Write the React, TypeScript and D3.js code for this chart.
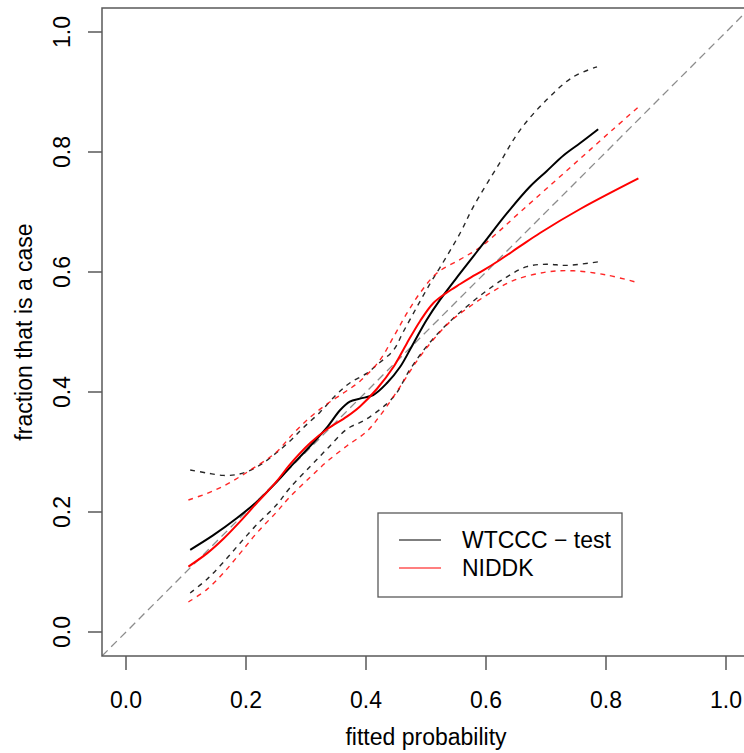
import React from "react";
import * as d3 from "d3";

const xTicks = [0, 0.2, 0.4, 0.6, 0.8, 1.0];
const yTicks = [0, 0.2, 0.4, 0.6, 0.8, 1.0];
const xLabel = "fitted probability";
const yLabel = "fraction that is a case";
const legendLabels = ["WTCCC \u2212 test", "NIDDK"];

// WTCCC - test (black, solid fit)
const wtcccX = [0.107, 0.145, 0.185, 0.218, 0.251, 0.273, 0.307, 0.335, 0.357, 0.373, 0.39, 0.412, 0.435, 0.457, 0.479, 0.501, 0.523, 0.557, 0.596, 0.635, 0.673, 0.701, 0.73, 0.757, 0.787];
const wtcccY = [0.137, 0.161, 0.19, 0.217, 0.25, 0.274, 0.31, 0.341, 0.37, 0.384, 0.389, 0.395, 0.415, 0.442, 0.481, 0.52, 0.553, 0.598, 0.648, 0.698, 0.742, 0.768, 0.795, 0.815, 0.838];
// WTCCC upper band
const wtcccHiX = [0.107, 0.135, 0.162, 0.182, 0.201, 0.223, 0.245, 0.273, 0.295, 0.323, 0.351, 0.373, 0.401, 0.418, 0.446, 0.462, 0.485, 0.507, 0.523, 0.557, 0.579, 0.623, 0.657, 0.701, 0.745, 0.785];
const wtcccHiY = [0.27, 0.265, 0.261, 0.262, 0.267, 0.278, 0.294, 0.318, 0.34, 0.366, 0.396, 0.415, 0.431, 0.445, 0.47, 0.5, 0.542, 0.581, 0.607, 0.665, 0.709, 0.782, 0.837, 0.887, 0.925, 0.942];
// WTCCC lower band
const wtcccLoX = [0.107, 0.135, 0.162, 0.19, 0.218, 0.251, 0.273, 0.307, 0.335, 0.368, 0.401, 0.446, 0.473, 0.501, 0.529, 0.557, 0.596, 0.635, 0.668, 0.701, 0.735, 0.787];
const wtcccLoY = [0.065, 0.088, 0.116, 0.148, 0.179, 0.212, 0.24, 0.276, 0.305, 0.338, 0.355, 0.392, 0.437, 0.476, 0.507, 0.533, 0.565, 0.592, 0.609, 0.613, 0.611, 0.617];

// NIDDK (red, solid fit)
const niddkX = [0.104, 0.135, 0.162, 0.19, 0.218, 0.251, 0.273, 0.307, 0.335, 0.368, 0.39, 0.418, 0.446, 0.468, 0.49, 0.512, 0.535, 0.557, 0.575, 0.596, 0.623, 0.657, 0.69, 0.757, 0.854];
const niddkY = [0.109, 0.131, 0.155, 0.184, 0.215, 0.251, 0.279, 0.315, 0.338, 0.359, 0.376, 0.405, 0.442, 0.481, 0.518, 0.548, 0.566, 0.58, 0.591, 0.603, 0.62, 0.643, 0.665, 0.705, 0.756];
// NIDDK upper band
const niddkHiX = [0.104, 0.135, 0.162, 0.19, 0.212, 0.235, 0.251, 0.278, 0.307, 0.335, 0.362, 0.39, 0.423, 0.446, 0.468, 0.49, 0.518, 0.557, 0.59, 0.623, 0.657, 0.701, 0.757, 0.812, 0.854];
const niddkHiY = [0.22, 0.231, 0.243, 0.259, 0.273, 0.288, 0.3, 0.33, 0.358, 0.38, 0.398, 0.418, 0.453, 0.492, 0.531, 0.565, 0.598, 0.621, 0.641, 0.669, 0.7, 0.739, 0.789, 0.838, 0.875];
// NIDDK lower band
const niddkLoX = [0.104, 0.135, 0.162, 0.19, 0.218, 0.251, 0.273, 0.307, 0.335, 0.368, 0.401, 0.423, 0.457, 0.485, 0.512, 0.54, 0.568, 0.607, 0.646, 0.701, 0.746, 0.801, 0.854];
const niddkLoY = [0.05, 0.071, 0.098, 0.131, 0.165, 0.2, 0.225, 0.258, 0.284, 0.31, 0.334, 0.36, 0.409, 0.452, 0.487, 0.517, 0.539, 0.565, 0.586, 0.6, 0.602, 0.595, 0.582];

const zip = (xs: number[], ys: number[]) => xs.map((v, i) => [v, ys[i]] as [number, number]);

const FONT = "'Liberation Sans', Arial, Helvetica, sans-serif";
const AXIS = "#595959";

export default function App() {
  const W = 744;
  const H = 753;
  const x = d3.scaleLinear().domain([-0.04, 1.04]).range([102, 750]);
  const y = d3.scaleLinear().domain([-0.04, 1.04]).range([656, 8]);
  const line = d3
    .line<[number, number]>()
    .x((d) => x(d[0]))
    .y((d) => y(d[1]))
    .curve(d3.curveCatmullRom.alpha(0.5));

  const series = [
    { d: zip(wtcccHiX, wtcccHiY), c: "#000000", dash: "5,5", w: 1.4, o: 0.85 },
    { d: zip(wtcccLoX, wtcccLoY), c: "#000000", dash: "5,5", w: 1.4, o: 0.85 },
    { d: zip(niddkHiX, niddkHiY), c: "#ff0000", dash: "5,5", w: 1.4, o: 0.85 },
    { d: zip(niddkLoX, niddkLoY), c: "#ff0000", dash: "5,5", w: 1.4, o: 0.85 },
    { d: zip(wtcccX, wtcccY), c: "#000000", dash: undefined, w: 2, o: 1 },
    { d: zip(niddkX, niddkY), c: "#ff0000", dash: undefined, w: 2, o: 1 },
  ];

  const [x0, x1] = x.range();
  const [y0, y1] = y.range();

  return (
    <svg
      width={W}
      height={H}
      style={{ position: "absolute", left: 0, top: 0, display: "block", background: "#fff" }}
      fontFamily={FONT}
    >
      <defs>
        <clipPath id="plotclip">
          <rect x={x0} y={y1} width={x1 - x0} height={y0 - y1} />
        </clipPath>
      </defs>
      <rect x={0} y={0} width={W} height={H} fill="#fff" />
      <g clipPath="url(#plotclip)">
        <line
          x1={x(-0.04)}
          y1={y(-0.04)}
          x2={x(1.04)}
          y2={y(1.04)}
          stroke="#8c8c8c"
          strokeWidth={1.3}
          strokeDasharray="8,5"
        />
        {series.map((s, i) => (
          <path
            key={i}
            d={line(s.d) || ""}
            fill="none"
            stroke={s.c}
            strokeWidth={s.w}
            strokeDasharray={s.dash}
            strokeOpacity={s.o}
          />
        ))}
      </g>
      <rect x={x0} y={y1} width={x1 - x0} height={y0 - y1} fill="none" stroke={AXIS} strokeWidth={1.5} />
      {xTicks.map((t) => (
        <g key={"x" + t}>
          <line x1={x(t)} x2={x(t)} y1={y0} y2={y0 + 14} stroke={AXIS} strokeWidth={1.5} />
          <text x={x(t)} y={708} textAnchor="middle" fontSize={23} fill="#000">
            {t.toFixed(1)}
          </text>
        </g>
      ))}
      {yTicks.map((t) => (
        <g key={"y" + t}>
          <line x1={x0 - 14} x2={x0} y1={y(t)} y2={y(t)} stroke={AXIS} strokeWidth={1.5} />
          <text
            transform={`translate(69.5,${y(t)}) rotate(-90)`}
            textAnchor="middle"
            fontSize={23}
            fill="#000"
          >
            {t.toFixed(1)}
          </text>
        </g>
      ))}
      <text x={(x0 + x1) / 2} y={745} textAnchor="middle" fontSize={23} fill="#000">
        {xLabel}
      </text>
      <text
        transform={`translate(32,${(y0 + y1) / 2}) rotate(-90)`}
        textAnchor="middle"
        fontSize={23}
        fill="#000"
      >
        {yLabel}
      </text>
      <rect x={378} y={513} width={244} height={84} fill="#fff" stroke={AXIS} strokeWidth={1.3} />
      <line x1={399} x2={441} y1={540} y2={540} stroke="#000" strokeWidth={1.2} />
      <line x1={399} x2={441} y1={568} y2={568} stroke="#ff0000" strokeWidth={1.2} />
      <text x={462} y={548} fontSize={23} fill="#000">
        {legendLabels[0]}
      </text>
      <text x={462} y={576} fontSize={23} fill="#000">
        {legendLabels[1]}
      </text>
    </svg>
  );
}
